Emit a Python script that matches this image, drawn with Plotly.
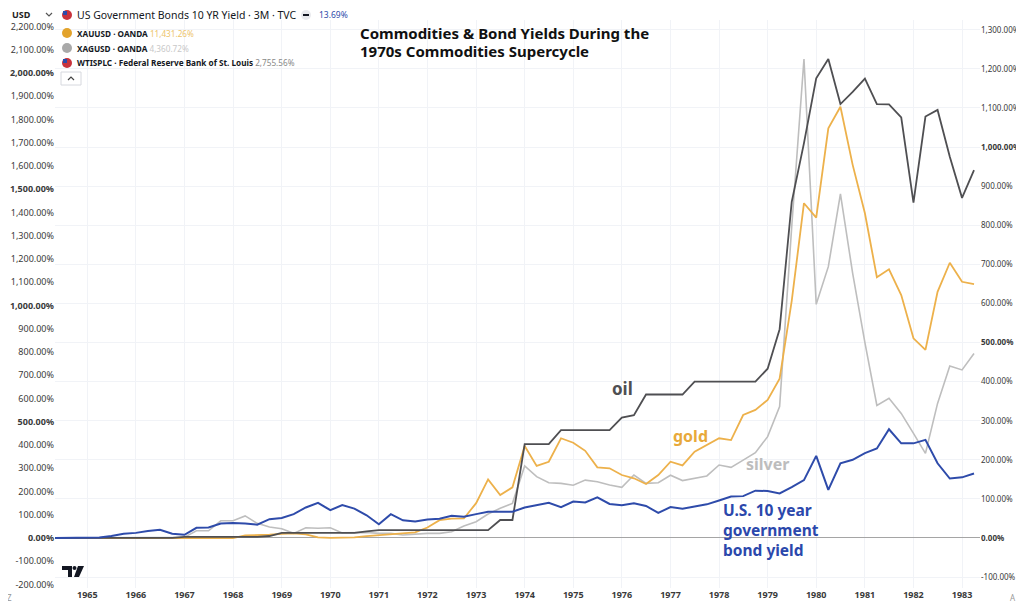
import pandas as pd
import plotly.graph_objects as go

# ---- data (quarterly, % change since first bar) ----
quarters = pd.date_range("1964-04-01", periods=77, freq="QS")

bond_yield = [0, 0, 0, 0, 1, 5, 11, 13, 18, 21, 11, 8, 26, 27, 37, 38, 37, 34, 48, 51,
              61, 78, 90, 71, 84, 75, 58, 35, 61, 45, 42, 47, 49, 57, 54, 61, 67, 67, 67, 78,
              84, 90, 79, 93, 91, 104, 87, 84, 89, 82, 64, 79, 75, 80, 86, 96, 106, 107, 121, 120,
              114, 130, 148, 210, 123, 191, 200, 217, 229, 278, 242, 242, 251, 191, 152, 155, 165]

oil = [0, 0, 0, 0, 0, 0, 0, 0, 0, 0, 0, 3, 3, 3, 3, 3, 3, 3, 5, 13,
       13, 13, 13, 13, 13, 13, 17, 20, 20, 20, 20, 20, 20, 20, 20, 20, 20, 46, 46, 240,
       240, 240, 276, 276, 276, 276, 276, 308, 314, 367, 367, 367, 367, 400, 400, 400, 400, 400, 400, 433,
       534, 860, 1010, 1176, 1225, 1110, 1141, 1175, 1110, 1109, 1076, 858, 1078, 1095, 975, 870, 941]

gold = [0, 0, 0, 0, 0, 0, 0, 0, 0, 0, 0, 0, 0, 0, 0, 0, 11, 12, 14, 18,
        20, 16, 3, 1, 2, 3, 8, 12, 16, 20, 24, 45, 77, 83, 84, 150, 252, 185, 218, 396,
        310, 328, 429, 410, 375, 304, 300, 271, 257, 232, 271, 328, 312, 371, 400, 429, 421, 529, 551, 594,
        685, 1020, 1440, 1378, 1762, 1855, 1605, 1397, 1122, 1156, 1045, 859, 809, 1059, 1184, 1102, 1092]

silver = [0, 0, 0, 0, 0, 0, 0, 0, 0, 0, 0, 3, 31, 31, 74, 74, 95, 63, 47, 40,
          20, 44, 42, 44, 22, 24, 24, 20, 20, 13, 17, 20, 20, 27, 52, 70, 103, 128, 149, 310,
          264, 238, 235, 227, 249, 242, 228, 218, 271, 235, 238, 270, 247, 257, 267, 314, 304, 335, 367, 436,
          565, 1340, 2060, 1005, 1167, 1480, 1138, 840, 570, 601, 536, 450, 364, 579, 740, 723, 794]

year_ticks = list(range(1965, 1984))
left_ticks = list(range(-200, 2201, 100))
right_ticks = list(range(-100, 1301, 100))
bold_left = {0, 500, 1000, 1500, 2000}
bold_right = {0, 500, 1000}

# ---- style ----
C_BOND = "#2E4BAA"
C_OIL = "#4F4F52"
C_GOLD = "#EDB14B"
C_SILVER = "#BEBEBE"
FONT = "Noto Sans"

def fmt(v, bold):
    s = f"{v:,.2f}%"
    return f"<b>{s}</b>" if bold else s

fig = go.Figure()
fig.add_trace(go.Scatter(x=quarters, y=silver, yaxis="y", mode="lines",
                         line=dict(color=C_SILVER, width=1.6), name="XAGUSD"))
fig.add_trace(go.Scatter(x=quarters, y=gold, yaxis="y", mode="lines",
                         line=dict(color=C_GOLD, width=1.8), name="XAUUSD"))
fig.add_trace(go.Scatter(x=quarters, y=oil, yaxis="y2", mode="lines",
                         line=dict(color=C_OIL, width=1.8), name="WTISPLC"))
fig.add_trace(go.Scatter(x=quarters, y=bond_yield, yaxis="y2", mode="lines",
                         line=dict(color=C_BOND, width=2.0), name="US10Y"))

# page body has an 8px margin: figure is sized so that it fills the window exactly
fig.update_layout(
    width=1016, height=600,
    margin=dict(l=47, r=44, t=12, b=20),
    paper_bgcolor="white", plot_bgcolor="white",
    showlegend=False,
    font=dict(family=FONT, color="#333333"),
    xaxis=dict(
        type="date", automargin=False,
        range=["1964-05-03", "1983-05-16"],
        tickvals=[pd.Timestamp(f"{y}-01-01") for y in year_ticks],
        ticktext=[f"<b>{y}</b>" for y in year_ticks],
        tickfont=dict(size=9, color="#3a3a3a"),
        showgrid=True, gridcolor="#F1F3F7", gridwidth=1,
        zeroline=False, showline=False, ticks="",
    ),
    yaxis=dict(
        side="left", automargin=False,
        range=[-215, 2228],
        tickvals=left_ticks,
        ticktext=[fmt(v, v in bold_left) for v in left_ticks],
        tickfont=dict(size=9, color="#3a3a3a"),
        showgrid=False, zeroline=False, showline=False, ticks="",
    ),
    yaxis2=dict(
        side="right", overlaying="y", automargin=False,
        range=[-128, 1325],
        tickvals=right_ticks,
        ticktext=[fmt(v, v in bold_right) for v in right_ticks],
        tickfont=dict(size=8, color="#3a3a3a"),
        showgrid=True, gridcolor="#F1F3F7", gridwidth=1,
        zeroline=True, zerolinecolor="#A5A5A5", zerolinewidth=1,
        showline=False, ticks="",
    ),
)

# helpers: window pixel -> paper coordinates (plot area spans x 55..980, y 20..588 in the window)
def px(x):
    return (x - 55) / 925.0

def py(y):
    return (588 - y) / 568.0

ann = []

def label(text, x, y, size, color, anchor="left", bold=False, yanchor="middle"):
    t = f"<b>{text}</b>" if bold else text
    ann.append(dict(text=t, x=px(x), y=py(y), xref="paper", yref="paper",
                    xanchor=anchor, yanchor=yanchor, align="left", showarrow=False,
                    font=dict(size=size, color=color, family=FONT)))

# title
label("Commodities & Bond Yields During the", 358, 33, 15, "#111111", bold=True)
label("1970s Commodities Supercycle", 358, 51, 15, "#111111", bold=True)
# series labels
label("oil", 622, 388, 17, C_OIL, anchor="center", bold=True)
label("gold", 690, 436, 16, "#E8A93A", anchor="center", bold=True)
label("silver", 767, 464, 16, "#BDBDBD", anchor="center", bold=True)
label("U.S. 10 year<br>government<br>bond yield", 721, 497, 15.5, "#2B48AC",
      bold=True, yanchor="top")

# header / legend texts (TradingView style)
label("USD", 10, 15, 9, "#222222", bold=True)
label("US Government Bonds 10 YR Yield · 3M · TVC", 75, 15, 10.5, "#131722")
label("13.69%", 317, 15, 8.5, C_BOND)
label("<b>XAUUSD · OANDA</b> <span style='color:#EDC46A'>11,431.26%</span>", 75, 33, 8.2, "#131722")
label("<b>XAGUSD · OANDA</b> <span style='color:#C8C8C8'>4,360.72%</span>", 75, 48, 8.2, "#131722")
label("<b>WTISPLC · Federal Reserve Bank of St. Louis</b> <span style='color:#888888'>2,755.56%</span>",
      75, 63, 8.2, "#131722")
label("Z", 9, 597, 8, "#999999", anchor="center")
label("A", 1013, 597, 8, "#999999", anchor="center")
fig.update_layout(annotations=ann)

shapes = []
# dropdown chevron next to USD
shapes.append(dict(type="path", xref="paper", yref="paper",
                   path=f"M {px(46)},{py(13)} L {px(49)},{py(16)} L {px(52)},{py(13)}",
                   line=dict(color="#555555", width=1.2)))
# legend icons
icons = [(67, 15, "#C8333C"), (67, 33, "#E3A32B"), (67, 48, "#A9A9A9"), (67, 63, "#C8333C")]
for cx, cy, col in icons:
    shapes.append(dict(type="circle", xref="paper", yref="paper",
                       x0=px(cx - 5), x1=px(cx + 5), y0=py(cy + 5), y1=py(cy - 5),
                       fillcolor=col, line=dict(width=0)))
for cx, cy in [(67, 15), (67, 63)]:
    shapes.append(dict(type="rect", xref="paper", yref="paper",
                       x0=px(cx - 4), x1=px(cx), y0=py(cy), y1=py(cy - 4),
                       fillcolor="#2B4BAA", line=dict(width=0)))
# minus icon next to bond legend
shapes.append(dict(type="circle", xref="paper", yref="paper",
                   x0=px(301), x1=px(311), y0=py(20), y1=py(10),
                   fillcolor="#E9EAEE", line=dict(width=0)))
shapes.append(dict(type="line", xref="paper", yref="paper",
                   x0=px(303), x1=px(309), y0=py(15), y1=py(15),
                   line=dict(color="#131722", width=2)))
# collapse button under legend
shapes.append(dict(type="rect", xref="paper", yref="paper",
                   x0=px(61), x1=px(81), y0=py(85), y1=py(72),
                   fillcolor="white", line=dict(color="#D6D8DE", width=1)))
shapes.append(dict(type="path", xref="paper", yref="paper",
                   path=f"M {px(68)},{py(80)} L {px(71)},{py(77)} L {px(74)},{py(80)}",
                   line=dict(color="#444444", width=1.2)))
# TradingView logo
shapes.append(dict(type="path", xref="paper", yref="paper",
                   path=f"M {px(62)},{py(566)} L {px(72)},{py(566)} L {px(72)},{py(577)} "
                        f"L {px(68)},{py(577)} L {px(68)},{py(570)} L {px(62)},{py(570)} Z",
                   fillcolor="#131722", line=dict(width=0)))
shapes.append(dict(type="circle", xref="paper", yref="paper",
                   x0=px(72.5), x1=px(76.5), y0=py(570), y1=py(566),
                   fillcolor="#131722", line=dict(width=0)))
shapes.append(dict(type="path", xref="paper", yref="paper",
                   path=f"M {px(78)},{py(566)} L {px(84)},{py(566)} L {px(79)},{py(577)} "
                        f"L {px(74)},{py(577)} Z",
                   fillcolor="#131722", line=dict(width=0)))
fig.update_layout(shapes=shapes)

fig.write_html("out.html")
